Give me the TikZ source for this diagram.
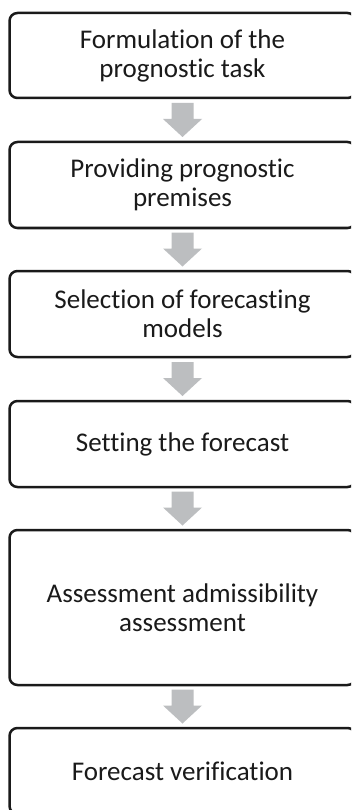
\documentclass[tikz,border=0pt]{standalone}
\usepackage{fontspec}
\setmainfont{Carlito}[RawFeature={-liga;-clig;-calt;-dlig}]
\usetikzlibrary{calc}
\definecolor{boxline}{HTML}{1A1A1A}
\definecolor{arrowgray}{HTML}{BCBEC0}
\definecolor{txt}{HTML}{1A1A1A}
\tikzset{
  stepbox/.style={draw=boxline, line width=2.5pt, rounded corners=8pt, fill=white,
    minimum width=346pt, align=center, text=txt, inner sep=2pt,
    font=\fontsize{27pt}{29pt}\selectfont},
  blockarrow/.style={fill=arrowgray, draw=none}
}
\begin{document}
\begin{tikzpicture}[x=1pt,y=1pt]
\useasboundingbox (0,0) rectangle (351,-810);
\clip (0,0) rectangle (351,-810);
\fill[white] (0,0) rectangle (351,-810);
\node[stepbox, minimum height=85pt]  (b1) at (182.5,-55.5) {Formulation of the\\prognostic task};
\node[stepbox, minimum height=86pt]  (b2) at (182.5,-185)  {Providing prognostic\\premises};
\node[stepbox, minimum height=86pt]  (b3) at (182.5,-314)  {Selection of forecasting\\models};
\node[stepbox, minimum height=86pt]  (b4) at (182.5,-444)  {Setting the forecast};
\node[stepbox, minimum height=155pt] (b5) at (182.5,-607.5) {Assessment admissibility\\assessment};
\node[stepbox, minimum height=86pt]  (b6) at (182.5,-771)  {Forecast verification};
\foreach \a/\b in {b1/b2,b2/b3,b3/b4,b4/b5,b5/b6}{
  \path (\a.south) -- (\b.north) coordinate[pos=0.5] (m);
  \fill[blockarrow] ($(m)+(-11,17)$) -- ($(m)+(11,17)$) -- ($(m)+(11,1)$)
    -- ($(m)+(19.5,1)$) -- ($(m)+(0,-17)$) -- ($(m)+(-19.5,1)$)
    -- ($(m)+(-11,1)$) -- cycle;
}
\end{tikzpicture}
\end{document}
